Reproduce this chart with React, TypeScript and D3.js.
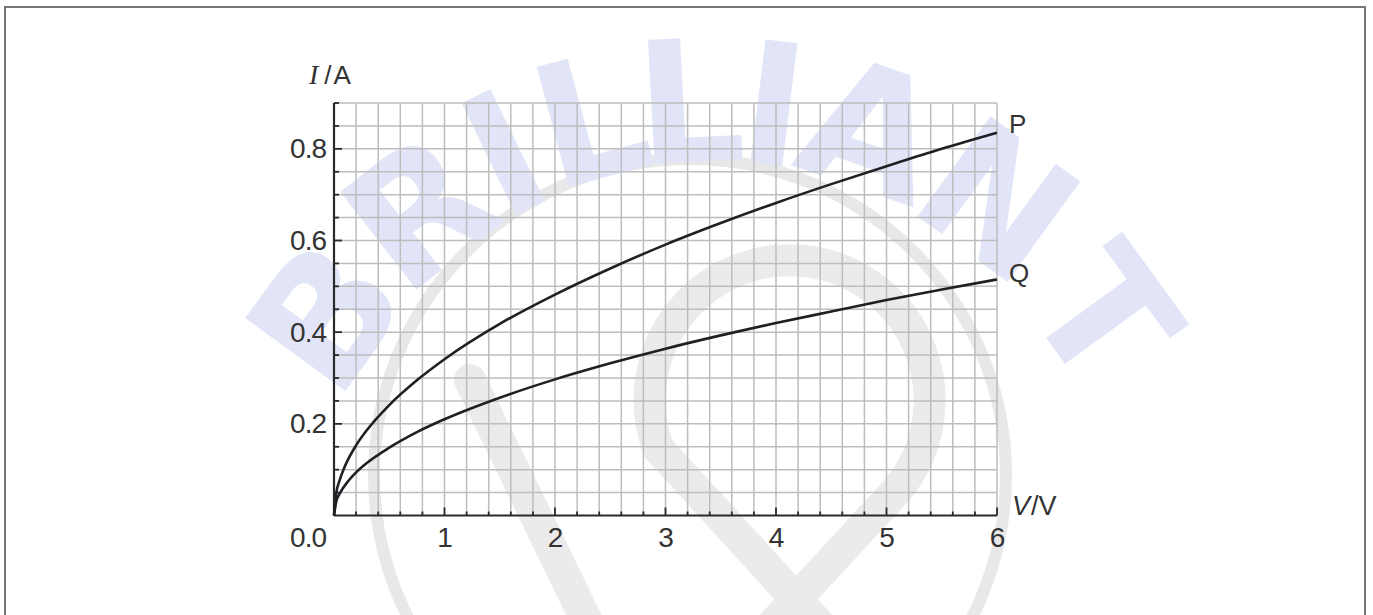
import React, { useRef, useEffect } from "react";
import * as d3 from "d3";

// current-voltage readings for the two components
const voltages = [0, 0.02, 0.05, 0.1, 0.2, 0.3, 0.5, 0.75, 1, 1.5, 2, 2.5, 3, 3.5, 4, 4.5, 5, 5.5, 6];
const currentP = [0, 0.048, 0.076, 0.108, 0.153, 0.187, 0.241, 0.295, 0.341, 0.418, 0.482, 0.539, 0.591, 0.638, 0.682, 0.723, 0.762, 0.8, 0.835];
const currentQ = [0, 0.03, 0.047, 0.066, 0.094, 0.115, 0.148, 0.182, 0.21, 0.257, 0.297, 0.332, 0.364, 0.393, 0.42, 0.445, 0.47, 0.493, 0.515];
const seriesNames = ["P", "Q"];

const xTickLabels = [1, 2, 3, 4, 5, 6];
const yTickLabels = [0.2, 0.4, 0.6, 0.8];

// watermark
const markLetters = ["B", "R", "I", "L", "L", "I", "A", "N", "T"];
const markAngles = [-54, -38, -26, -15, -3, 7, 19, 36, 54];

const W = 1373;
const H = 615;

const App = () => {
  const svgRef = useRef(null);

  useEffect(() => {
    const svg = d3.select(svgRef.current);
    svg.selectAll("*").remove();

    const x = d3.scaleLinear().domain([0, 6]).range([334, 997]);
    const y = d3.scaleLinear().domain([0, 0.9]).range([515.5, 103]);
    const font = "'Liberation Sans', Arial, sans-serif";

    // watermark (drawn underneath everything)
    const wm = svg.append("g");
    wm.append("circle")
      .attr("cx", 690).attr("cy", 475).attr("r", 316)
      .attr("fill", "none").attr("stroke", "#e8e8e8").attr("stroke-width", 12);
    const band = (d) =>
      wm.append("path").attr("d", d)
        .attr("fill", "none").attr("stroke", "#ebebeb")
        .attr("stroke-width", 32).attr("stroke-linecap", "round");
    band("M 658 448 A 140 140 0 1 1 897 490 L 740 660");
    band("M 658 448 L 870 680");
    band("M 470 380 L 625 700");
    markLetters.forEach((ch, i) => {
      const a = (markAngles[i] * Math.PI) / 180;
      const cx = 715 + 480 * Math.sin(a);
      const cy = 622 - 520 * Math.cos(a);
      wm.append("text")
        .attr("transform", `translate(${cx},${cy}) rotate(${markAngles[i]})`)
        .attr("text-anchor", "middle")
        .attr("dominant-baseline", "central")
        .attr("font-family", "'DejaVu Sans', sans-serif")
        .attr("font-weight", "bold")
        .attr("font-size", 170)
        .attr("fill", "#e2e5f8")
        .text(ch);
    });

    // grid
    const g = svg.append("g");
    const xGrid = d3.range(1, 31).map((i) => i * 0.2);
    const yGrid = d3.range(1, 19).map((i) => i * 0.05);
    g.selectAll(".vx").data(xGrid).enter().append("line")
      .attr("x1", (d) => x(d)).attr("x2", (d) => x(d))
      .attr("y1", y(0)).attr("y2", y(0.9))
      .attr("stroke", "#bdbdbd").attr("stroke-width", 1.5);
    g.selectAll(".hy").data(yGrid).enter().append("line")
      .attr("x1", x(0)).attr("x2", x(6))
      .attr("y1", (d) => y(d)).attr("y2", (d) => y(d))
      .attr("stroke", "#bdbdbd").attr("stroke-width", 1.5);

    // axes
    const axisColor = "#2a2a2a";
    g.append("line").attr("x1", x(0)).attr("x2", x(6)).attr("y1", y(0)).attr("y2", y(0))
      .attr("stroke", axisColor).attr("stroke-width", 2.2);
    g.append("line").attr("x1", x(0)).attr("x2", x(0)).attr("y1", y(0)).attr("y2", y(0.9))
      .attr("stroke", axisColor).attr("stroke-width", 2.2);

    // x ticks (inward)
    g.selectAll(".xt").data(xGrid).enter().append("line")
      .attr("x1", (d) => x(d)).attr("x2", (d) => x(d))
      .attr("y1", y(0)).attr("y2", (d) => y(0) - (Math.abs(d - Math.round(d)) < 1e-6 ? 8 : 4))
      .attr("stroke", axisColor).attr("stroke-width", 1.8);
    // y ticks (inward)
    g.selectAll(".yt").data(yGrid).enter().append("line")
      .attr("x1", x(0)).attr("x2", (d) => x(0) + (Math.abs(d * 5 - Math.round(d * 5)) < 1e-6 ? 8 : 5))
      .attr("y1", (d) => y(d)).attr("y2", (d) => y(d))
      .attr("stroke", axisColor).attr("stroke-width", 1.8);

    // tick labels
    const textColor = "#333333";
    const tickStyle = (sel) =>
      sel.attr("font-family", font).attr("font-size", 28)
        .attr("letter-spacing", -1).attr("fill", textColor);
    g.selectAll(".xl").data(xTickLabels).enter().append("text")
      .attr("x", (d) => x(d)).attr("y", 547)
      .attr("text-anchor", "middle")
      .call(tickStyle)
      .text((d) => d);
    g.selectAll(".yl").data(yTickLabels).enter().append("text")
      .attr("x", 326).attr("y", (d) => y(d) + 9.5)
      .attr("text-anchor", "end")
      .call(tickStyle)
      .text((d) => d.toFixed(1));
    g.append("text").attr("x", 326).attr("y", 547).attr("text-anchor", "end")
      .call(tickStyle)
      .text("0.0");

    // axis titles
    const yt = g.append("text").attr("x", 309).attr("y", 84)
      .attr("font-family", font).attr("font-size", 26).attr("fill", textColor);
    yt.append("tspan").attr("font-family", "'Liberation Serif', 'Times New Roman', serif")
      .attr("font-style", "italic").attr("font-size", 28).text("I");
    yt.append("tspan").attr("dx", 6).text("/");
    yt.append("tspan").attr("dx", 2).text("A");

    const xt = g.append("text").attr("x", 1012).attr("y", 515)
      .attr("font-family", font).attr("font-size", 27).attr("fill", textColor);
    xt.append("tspan").attr("font-style", "italic").text("V");
    xt.append("tspan").attr("dx", 1).text("/");
    xt.append("tspan").text("V");

    // curves
    const line = d3.line()
      .x((d) => x(d[0]))
      .y((d) => y(d[1]))
      .curve(d3.curveMonotoneX);
    [currentP, currentQ].forEach((vals, i) => {
      const pts = voltages.map((v, j) => [v, vals[j]]);
      g.append("path")
        .attr("d", line(pts))
        .attr("fill", "none")
        .attr("stroke", "#1f1f24")
        .attr("stroke-width", 2.6);
      const last = pts[pts.length - 1];
      g.append("text")
        .attr("x", x(last[0]) + 12)
        .attr("y", y(last[1]) + (i === 0 ? 0 : 3))
        .attr("font-family", font).attr("font-size", 26).attr("fill", textColor)
        .text(seriesNames[i]);
    });

    // outer frame
    svg.append("rect")
      .attr("x", 5).attr("y", 7).attr("width", 1360).attr("height", 640)
      .attr("fill", "none").attr("stroke", "#757575").attr("stroke-width", 2);
  }, []);

  return (
    <svg
      ref={svgRef}
      width={W}
      height={H}
      style={{ position: "absolute", left: 0, top: 0, display: "block", background: "#fff" }}
    ></svg>
  );
};

export default App;
